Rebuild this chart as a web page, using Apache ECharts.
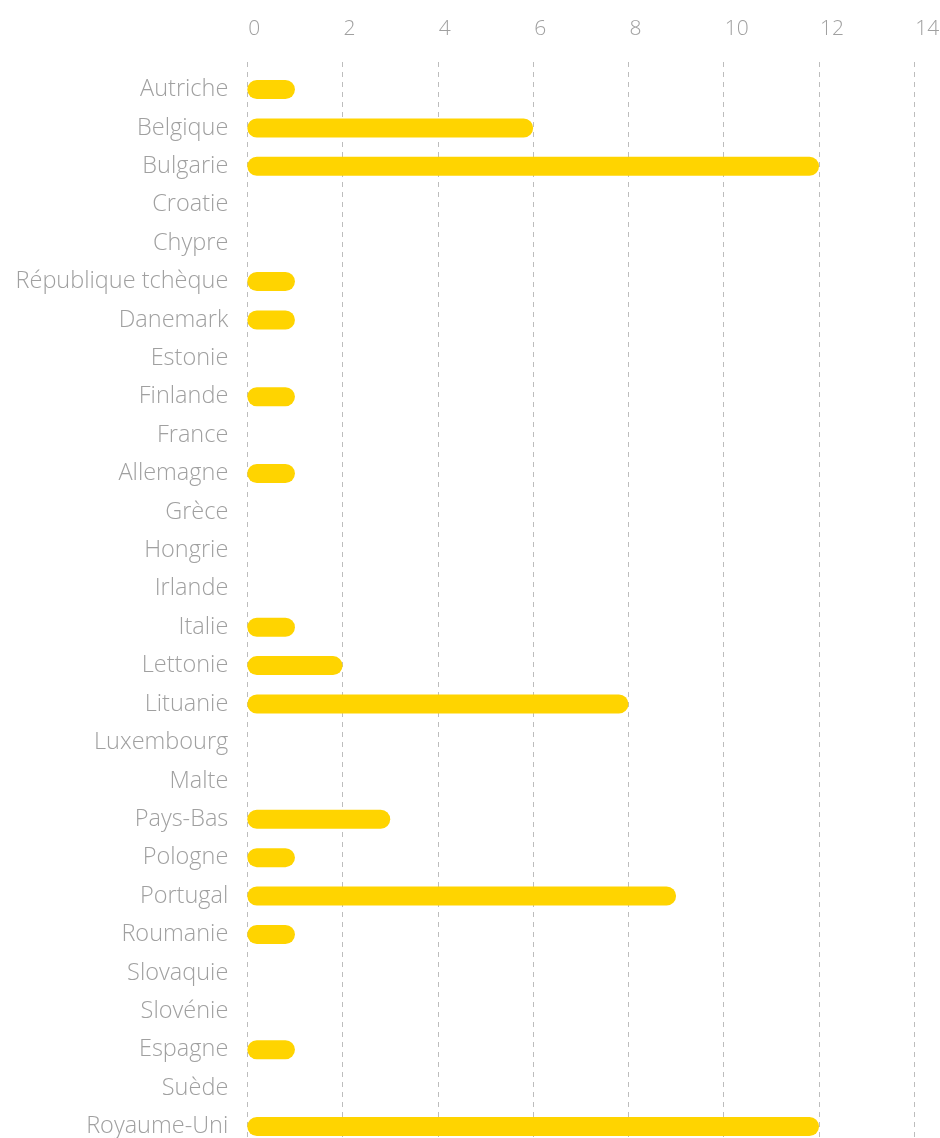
<!DOCTYPE html>
<html><head><meta charset="utf-8">
<script src="https://cdn.jsdelivr.net/npm/echarts@6/dist/echarts.min.js"></script>
<style>html,body{margin:0;padding:0;background:#fff}#c{width:940px;height:1138px}</style>
</head><body><div id="c"></div>
<script>
const categories = ["Autriche","Belgique","Bulgarie","Croatie","Chypre","République tchèque","Danemark","Estonie","Finlande","France","Allemagne","Grèce","Hongrie","Irlande","Italie","Lettonie","Lituanie","Luxembourg","Malte","Pays-Bas","Pologne","Portugal","Roumanie","Slovaquie","Slovénie","Espagne","Suède","Royaume-Uni"];
const values = [1,6,12,0,0,1,1,0,1,0,1,0,0,0,1,2,8,0,0,3,1,9,1,0,0,1,0,12];
const xMin = 0, xMax = 14, xStep = 2;

const font = '"Open Sans", sans-serif';
const textColor = '#a0a0a0';
const chart = echarts.init(document.getElementById('c'), null, {renderer:'canvas'});
chart.setOption({
  animation:false,
  grid:[
    {left:247.3, right:25.7, top:62, height:1090, outerBoundsMode:'none', containLabel:false},
    {left:247.3, right:25.7, top:70.3, height:1075.4, outerBoundsMode:'none', containLabel:false}
  ],
  xAxis:[
    {gridIndex:0, type:'value', position:'top', min:xMin, max:xMax, interval:xStep,
     axisLine:{show:false}, axisTick:{show:false},
     axisLabel:{margin:22, align:'left', padding:[0,0,0,1], color:textColor, fontFamily:font, fontWeight:300, fontSize:21},
     splitLine:{show:true, lineStyle:{color:'#bdbdbd', type:[5,5], width:1}}},
    {gridIndex:1, type:'value', min:xMin, max:xMax, interval:xStep, show:false}
  ],
  yAxis:[
    {gridIndex:0, type:'value', min:0, max:1, show:false},
    {gridIndex:1, type:'category', data:categories, inverse:true,
     axisLine:{show:false}, axisTick:{show:false}, splitLine:{show:false},
     axisLabel:{margin:19, color:textColor, fontFamily:font, fontWeight:300, fontSize:23.5}}
  ],
  series:[{
    type:'bar', xAxisIndex:1, yAxisIndex:1, data:values, barWidth:19,
    itemStyle:{color:'#FFD400', borderRadius:9.5}
  }]
});
</script></body></html>
